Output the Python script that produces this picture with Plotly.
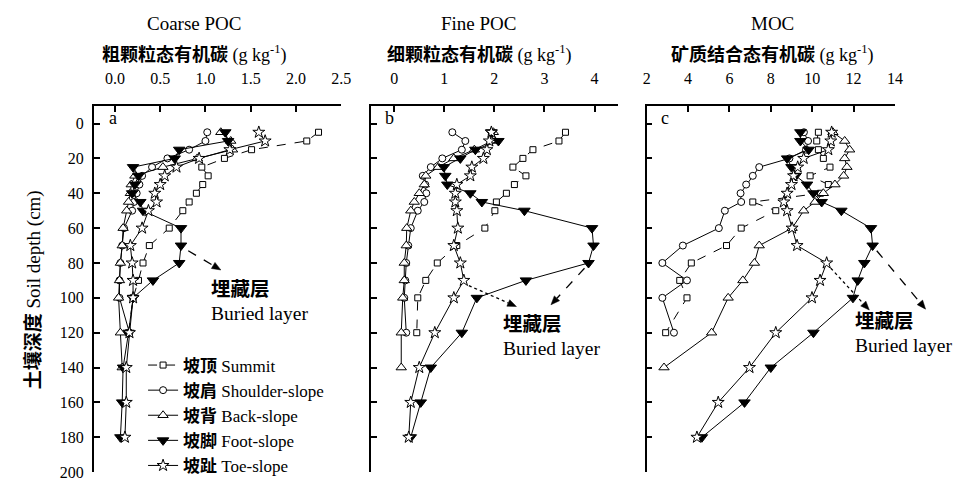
import plotly.graph_objects as go

# ---------------- data ----------------
depth = [5, 10, 15, 20, 25, 30, 35, 40, 45, 50, 60, 70, 80, 90, 100, 120, 140, 160, 180]

series_cn = ["坡顶", "坡肩", "坡背", "坡脚", "坡趾"]
series_en = ["Summit", "Shoulder-slope", "Back-slope", "Foot-slope", "Toe-slope"]

# Coarse POC (g/kg)
summit_a = [2.25, 2.12, 1.51, 1.21, 0.96, 1.03, 0.97, 0.90, 0.82, 0.75, 0.60, 0.38, 0.31, 0.26, 0.20, 0.15]
shoulder_a = [1.02, 1.00, 0.82, 0.58, 0.41, 0.30, 0.27, 0.24, 0.21, 0.19, 0.10, 0.08, 0.06, 0.05, 0.05, 0.16]
back_a = [1.17, 1.28, 1.30, 0.91, 0.53, 0.22, 0.18, 0.17, 0.15, 0.13, 0.09, 0.08, 0.06, 0.05, 0.04, 0.06, 0.08]
foot_a = [1.22, 1.25, 0.71, 0.66, 0.20, 0.26, 0.22, 0.19, 0.28, 0.31, 0.73, 0.73, 0.71, 0.42, 0.20, 0.15, 0.09, 0.08, 0.06]
toe_a = [1.59, 1.66, 1.27, 0.93, 0.68, 0.55, 0.50, 0.44, 0.46, 0.37, 0.30, 0.17, 0.19, 0.20, 0.20, 0.16, 0.125, 0.125, 0.11]

# Fine POC (g/kg)
summit_b = [3.42, 3.29, 2.77, 2.57, 2.37, 2.63, 2.40, 2.24, 2.04, 2.01, 1.81, 1.25, 0.86, 0.63, 0.47, 0.45]
shoulder_b = [1.16, 1.42, 1.35, 0.96, 0.73, 0.57, 0.62, 0.64, 0.60, 0.47, 0.33, 0.28, 0.24, 0.22, 0.20, 0.24]
back_b = [1.98, 1.95, 1.60, 1.19, 0.88, 0.63, 0.60, 0.50, 0.40, 0.33, 0.25, 0.24, 0.20, 0.20, 0.17, 0.14, 0.14]
foot_b = [1.94, 2.08, 1.62, 1.32, 0.99, 1.02, 1.06, 1.52, 1.75, 2.60, 3.95, 3.98, 3.88, 2.63, 1.65, 1.35, 0.73, 0.53, 0.33]
toe_b = [1.94, 1.90, 1.85, 1.78, 1.55, 1.52, 1.25, 1.22, 1.22, 1.25, 1.27, 1.19, 1.32, 1.39, 1.19, 0.81, 0.50, 0.33, 0.29]

# MOC (g/kg)
summit_c = [10.30, 10.22, 10.30, 10.54, 10.86, 9.90, 10.78, 10.40, 7.13, 8.24, 6.57, 5.86, 4.16, 3.60, 3.95, 2.92]
shoulder_c = [9.6, 9.8, 9.7, 8.9, 7.44, 7.13, 6.81, 6.54, 6.57, 5.78, 5.49, 3.75, 2.76, 3.95, 2.76, 3.32]
back_c = [11.0, 11.57, 11.81, 11.57, 11.68, 11.52, 11.1, 10.54, 10.14, 9.59, 9.03, 7.44, 7.21, 6.65, 5.94, 5.14, 2.84]
foot_c = [9.43, 9.43, 9.83, 8.79, 9.0, 9.2, 9.75, 10.06, 10.46, 11.41, 12.84, 12.92, 12.52, 12.2, 11.97, 10.06, 8.0, 6.73, 4.67]
toe_c = [10.94, 10.9, 10.78, 9.59, 9.3, 9.1, 9.0, 8.79, 8.63, 8.79, 9.03, 9.27, 10.7, 10.38, 9.99, 8.24, 6.97, 5.46, 4.43]

panel_titles_en = ["Coarse POC", "Fine POC", "MOC"]
panel_titles_cn = ["粗颗粒态有机碳", "细颗粒态有机碳", "矿质结合态有机碳"]
panel_letters = ["a", "b", "c"]
xtick_vals = [[0, 0.5, 1.0, 1.5, 2.0, 2.5], [0, 1, 2, 3, 4], [2, 4, 6, 8, 10, 12, 14]]
xtick_text = [["0.0", "0.5", "1.0", "1.5", "2.0", "2.5"], ["0", "1", "2", "3", "4"],
              ["2", "4", "6", "8", "10", "12", "14"]]
ytick_vals = [0, 20, 40, 60, 80, 100, 120, 140, 160, 180, 200]

# ---------------- style ----------------
W, H = 962, 479
SERIF = "Liberation Serif, Times New Roman, Noto Sans CJK SC"
x_ranges = [[-0.234, 2.5], [-0.47, 4.47], [2, 14]]
x_domains = [[83 / W, 334 / W], [364 / W, 615 / W], [644 / W, 896 / W]]
y_domain = [1 - 473 / H, 1 - 100 / H]
y_range = [200, -10]

styles = [
    dict(symbol="square", size=6, dash="dash"),
    dict(symbol="circle", size=7, dash="solid"),
    dict(symbol="triangle-up", size=9, dash="solid"),
    dict(symbol="triangle-down", size=10, dash="solid"),
    dict(symbol="star", size=9, dash="solid"),
]
fills = ["white", "white", "white", "black", "white"]

panels = [
    [summit_a, shoulder_a, back_a, foot_a, toe_a],
    [summit_b, shoulder_b, back_b, foot_b, toe_b],
    [summit_c, shoulder_c, back_c, foot_c, toe_c],
]

fig = go.Figure()
for p, series in enumerate(panels):
    xa = "x" if p == 0 else f"x{p+1}"
    ya = "y" if p == 0 else f"y{p+1}"
    for s, vals in enumerate(series):
        st = styles[s]
        fig.add_trace(go.Scatter(
            x=vals, y=depth[:len(vals)], xaxis=xa, yaxis=ya,
            mode="lines+markers", name=f"<b>{series_cn[s]}</b> {series_en[s]}",
            showlegend=(p == 0),
            line=dict(color="black", width=1, dash=st["dash"]),
            marker=dict(symbol=st["symbol"], size=st["size"], color=fills[s],
                        line=dict(color="black", width=1)),
            cliponaxis=False,
        ))

layout = dict(
    width=W, height=H, margin=dict(l=0, r=0, t=0, b=0),
    plot_bgcolor="white", paper_bgcolor="white",
    font=dict(family=SERIF, color="black", size=16),
    legend=dict(x=133 / W, y=1 - 346 / H, xanchor="left", yanchor="top",
                bgcolor="rgba(0,0,0,0)", font=dict(size=17, family=SERIF),
                itemwidth=30, tracegroupgap=0),
)
for p in range(3):
    sfx = "" if p == 0 else str(p + 1)
    layout["xaxis" + sfx] = dict(
        domain=x_domains[p], range=x_ranges[p], side="top", anchor="y" + sfx,
        showline=True, linecolor="black", linewidth=1.6, mirror=False,
        ticks="inside", ticklen=6, tickwidth=1.5, tickcolor="black",
        tickvals=xtick_vals[p], ticktext=xtick_text[p], ticklabelstandoff=14,
        ticklabeloverflow="allow",
        tickfont=dict(size=16, family=SERIF), showgrid=False, zeroline=False,
    )
    layout["yaxis" + sfx] = dict(
        domain=y_domain, range=y_range, anchor="x" + sfx,
        showline=True, linecolor="black", linewidth=1.6,
        ticks="inside", ticklen=6, tickwidth=1.5, tickcolor="black",
        tickvals=ytick_vals, showticklabels=(p == 0), ticklabelstandoff=5,
        ticklabeloverflow="allow",
        tickfont=dict(size=16, family=SERIF), showgrid=False, zeroline=False,
    )
fig.update_layout(**layout)


def to_paper(p, v, d):
    r0, r1 = x_ranges[p]
    x0, x1 = x_domains[p]
    px = x0 + (v - r0) / (r1 - r0) * (x1 - x0)
    py = y_domain[0] + (y_range[0] - d) / (y_range[0] - y_range[1]) * (y_domain[1] - y_domain[0])
    return px, py


annotations = []
# titles
title_cx = [185, 474, 772]
for p in range(3):
    annotations.append(dict(x=title_cx[p] / W, y=1 - 16 / H, xref="paper", yref="paper",
                            xanchor="center", yanchor="middle",
                            text=panel_titles_en[p], showarrow=False,
                            font=dict(size=19, family=SERIF)))
    annotations.append(dict(x=title_cx[p] / W, y=1 - 47 / H, xref="paper", yref="paper",
                            xanchor="center", yanchor="middle",
                            text="<b>" + panel_titles_cn[p] + "</b> (g kg<sup>-1</sup>)",
                            showarrow=False, font=dict(size=18, family=SERIF)))
    lx, ly = to_paper(p, x_ranges[p][0], -3)
    annotations.append(dict(x=lx + 19 / W, y=ly, xref="paper", yref="paper",
                            xanchor="center", yanchor="middle",
                            text=panel_letters[p], showarrow=False,
                            font=dict(size=18, family=SERIF)))

# y title
annotations.append(dict(x=22 / W, y=1 - 287 / H, xref="paper", yref="paper", textangle=-90,
                        xanchor="center", yanchor="middle",
                        text="<b>土壤深度</b> Soil depth (cm)", showarrow=False,
                        font=dict(size=19, family=SERIF)))

# buried-layer arrows: (panel, start value, start depth, end value, end depth, dash)
arrows = [
    (0, foot_a[11] + 0.08, 73, 1.17, 84, "dash"),
    (1, toe_b[13] + 0.1, 93, 2.44, 105, "dot"),
    (1, foot_b[12] - 0.08, 83, 3.13, 104, "dash"),
    (2, foot_c[11] + 0.2, 73, 15.48, 106.5, "dash"),
    (2, toe_c[12] + 0.2, 83, 12.76, 107, "dot"),
]
shapes = []
for p, v0, d0, v1, d1, dash in arrows:
    x0, y0 = to_paper(p, v0, d0)
    x1, y1 = to_paper(p, v1, d1)
    X0, Y0 = x0 * W, (1 - y0) * H
    X1, Y1 = x1 * W, (1 - y1) * H
    dx, dy = X1 - X0, Y1 - Y0
    n = (dx ** 2 + dy ** 2) ** 0.5
    ux, uy = dx / n, dy / n
    hl, hw = 9.0, 3.6
    bx, by = X1 - ux * hl, Y1 - uy * hl
    shapes.append(dict(type="line", xref="paper", yref="paper",
                       x0=x0, y0=y0, x1=bx / W, y1=1 - by / H,
                       line=dict(color="black", width=1.3, dash=dash)))
    pts = [(X1, Y1), (bx - uy * hw, by + ux * hw), (bx + uy * hw, by - ux * hw)]
    path = "M " + " L ".join(f"{px / W:.5f},{1 - py / H:.5f}" for px, py in pts) + " Z"
    shapes.append(dict(type="path", xref="paper", yref="paper", path=path,
                       fillcolor="black", line=dict(color="black", width=0.5)))

# buried-layer labels (pixel anchors)
buried = [(200, 287, 311), (496, 323, 347), (853, 320, 344)]
for xpx, y1px, y2px in buried:
    annotations.append(dict(x=xpx / W, y=1 - y1px / H, xref="paper", yref="paper",
                            xanchor="left", yanchor="middle",
                            text="<b>埋藏层</b>", showarrow=False, font=dict(size=19.5, family=SERIF)))
    annotations.append(dict(x=xpx / W, y=1 - y2px / H, xref="paper", yref="paper",
                            xanchor="left", yanchor="middle",
                            text="Buried layer", showarrow=False, font=dict(size=19.5, family=SERIF)))

fig.update_layout(annotations=annotations, shapes=shapes)
fig.write_html("out.html")
